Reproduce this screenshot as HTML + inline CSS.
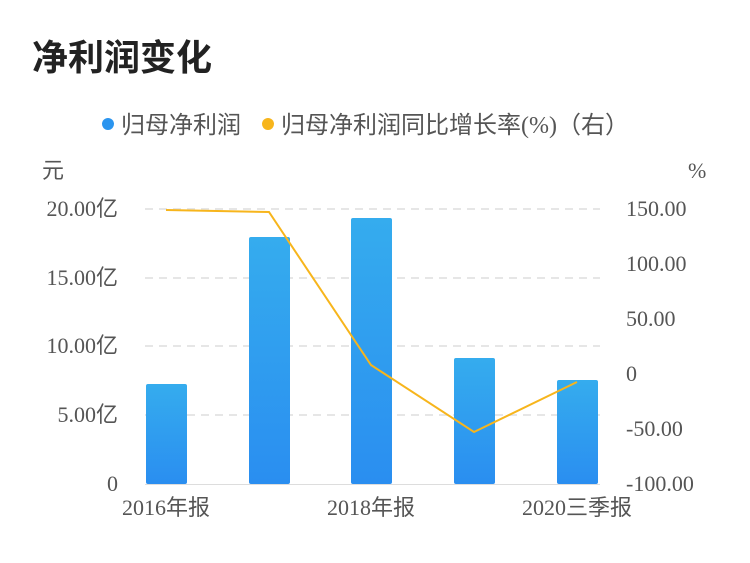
<!DOCTYPE html>
<html><head><meta charset="utf-8"><style>
body{margin:0;background:#fff;}
.s{font-family:"Liberation Sans","Noto Sans CJK SC",sans-serif;}
.r{font-family:"Liberation Serif","Noto Sans CJK SC",serif;}
</style></head><body>
<svg width="750" height="558" xmlns="http://www.w3.org/2000/svg">
<defs><linearGradient id="g" x1="0" y1="0" x2="0" y2="1"><stop offset="0" stop-color="#35acee"/><stop offset="1" stop-color="#2a8ef0"/></linearGradient></defs>
<text class="s" x="32" y="70" font-size="36" font-weight="bold" fill="#222">净利润变化</text>
<circle cx="108" cy="124" r="6" fill="#2b95ef"/>
<text class="r" x="121" y="133" font-size="24" fill="#555">归母净利润</text>
<circle cx="268" cy="124" r="6" fill="#f7b51c"/>
<text class="r" x="281" y="133" font-size="24" fill="#555">归母净利润同比增长率(%)（右）</text>
<text class="r" x="42" y="178" font-size="22" fill="#555">元</text>
<text class="r" x="688" y="178" font-size="22" fill="#555">%</text>
<g stroke="#e6e6e6" stroke-width="2" stroke-dasharray="8,6">
<line x1="145" y1="209" x2="600" y2="209"/><line x1="145" y1="278" x2="600" y2="278"/>
<line x1="145" y1="346" x2="600" y2="346"/><line x1="145" y1="415" x2="600" y2="415"/>
</g>
<line x1="145" y1="484.5" x2="600" y2="484.5" stroke="#ddd" stroke-width="1"/>
<g font-size="22" fill="#555" class="r">
<text class="r" x="118" y="216" text-anchor="end">20.00亿</text>
<text class="r" x="118" y="285" text-anchor="end">15.00亿</text>
<text class="r" x="118" y="353" text-anchor="end">10.00亿</text>
<text class="r" x="118" y="422" text-anchor="end">5.00亿</text>
<text class="r" x="118" y="491" text-anchor="end">0</text>
<text class="r" x="626" y="216">150.00</text>
<text class="r" x="626" y="271">100.00</text>
<text class="r" x="626" y="326">50.00</text>
<text class="r" x="626" y="381">0</text>
<text class="r" x="626" y="436">-50.00</text>
<text class="r" x="626" y="491">-100.00</text>
<text class="r" x="166" y="515" text-anchor="middle">2016年报</text>
<text class="r" x="371" y="515" text-anchor="middle">2018年报</text>
<text class="r" x="577" y="515" text-anchor="middle">2020三季报</text>
</g>
<g fill="url(#g)">
<rect x="146" y="384" width="41" height="100" rx="2"/>
<rect x="249" y="237" width="41" height="247" rx="2"/>
<rect x="351" y="218" width="41" height="266" rx="2"/>
<rect x="454" y="358" width="41" height="126" rx="2"/>
<rect x="557" y="380" width="41" height="104" rx="2"/>
</g>
<polyline points="166,210 269,212 371,365 474,432 577,382" fill="none" stroke="#f7b51c" stroke-width="2"/>
</svg>
</body></html>
